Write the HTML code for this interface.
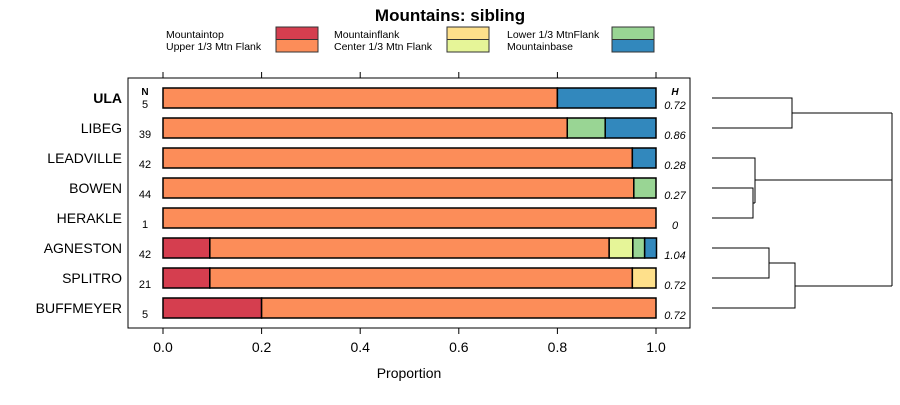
<!DOCTYPE html>
<html><head><meta charset="utf-8"><style>
body{margin:0;background:#fff}
svg{font-family:"Liberation Sans",sans-serif}
</style></head><body>
<svg id="c" width="900" height="400" xmlns="http://www.w3.org/2000/svg">
<text x="450" y="21" text-anchor="middle" font-size="17" font-weight="bold">Mountains: sibling</text>
<g id="legend"></g>
<rect x="128" y="78" width="562" height="250" fill="none" stroke="#000"/>
<text x="145" y="95" text-anchor="middle" font-size="10" font-weight="bold">N</text>
<text x="675" y="95" text-anchor="middle" font-size="10" font-weight="bold" font-style="italic">H</text>
<g id="bars"></g>
<g id="axis"></g>
<text x="409" y="378" text-anchor="middle" font-size="14">Proportion</text>
<g fill="none" stroke="#000" stroke-width="1">
<path d="M712 98H792V128H712M792 113H892"/>
<path d="M712 188H753V218H712M753 203H755M712 158H755V203M755 180H892"/>
<path d="M712 248H769V278H712M769 263H795V308H712M795 286H892"/>
<path d="M892 113V286"/>
</g>
</svg>
<script>
const categories=["ULA","LIBEG","LEADVILLE","BOWEN","HERAKLE","AGNESTON","SPLITRO","BUFFMEYER"];
const nValues=[5,39,42,44,1,42,21,5];
const hValues=["0.72","0.86","0.28","0.27","0","1.04","0.72","0.72"];
const seriesNames=["Mountaintop","Upper 1/3 Mtn Flank","Mountainflank","Center 1/3 Mtn Flank","Lower 1/3 MtnFlank","Mountainbase"];
const seriesColors=["#d53e4f","#fc8d59","#fee08b","#e6f598","#99d594","#3288bd"];
const mountaintop=[0,0,0,0,0,0.095,0.095,0.2];
const upperFlank=[0.8,0.82,0.952,0.955,1,0.81,0.857,0.8];
const mountainflank=[0,0,0,0,0,0,0.048,0];
const centerFlank=[0,0,0,0,0,0.048,0,0];
const lowerFlank=[0,0.077,0,0.045,0,0.024,0,0];
const mountainbase=[0.2,0.103,0.048,0,0,0.024,0,0];
const ticks=[0,0.2,0.4,0.6,0.8,1.0];
const tickLabels=["0.0","0.2","0.4","0.6","0.8","1.0"];
const series=[mountaintop,upperFlank,mountainflank,centerFlank,lowerFlank,mountainbase];
const NS="http://www.w3.org/2000/svg";
const x=v=>163+v*493;
const y=i=>98+i*30;
function mk(t,a,p){const e=document.createElementNS(NS,t);for(const k in a)e.setAttribute(k,a[k]);p.appendChild(e);return e;}
const bars=document.getElementById('bars');
categories.forEach((c,i)=>{
  const lab=mk('text',{x:122,y:y(i)+5,'text-anchor':'end','font-size':14,'font-weight':i===0?'bold':'normal'},bars);
  lab.textContent=c;
  
  
  const n=mk('text',{x:145,y:y(i)+10,'text-anchor':'middle','font-size':11},bars);
  n.textContent=nValues[i];
  
  
  const h=mk('text',{x:675,y:y(i)+11,'text-anchor':'middle','font-size':11,'font-style':'italic'},bars);
  h.textContent=hValues[i];
  
  
  let acc=0;
  series.forEach((s,k)=>{
    const v=s[i]; if(v<=0)return;
    const r=mk('rect',{x:x(acc),y:y(i)-10,width:x(acc+v)-x(acc),height:20,fill:seriesColors[k],stroke:'#000','stroke-width':1.5},bars);
    
    
    acc+=v;
  });
});
const ax=document.getElementById('axis');
ticks.forEach((t,i)=>{
  mk('line',{x1:x(t),x2:x(t),y1:328,y2:334,stroke:'#000'},ax);
  mk('line',{x1:x(t),x2:x(t),y1:78,y2:72,stroke:'#000'},ax);
  const tl=mk('text',{x:x(t),y:352,'text-anchor':'middle','font-size':14},ax);
  tl.textContent=tickLabels[i];
  
  
});
const lg=document.getElementById('legend');
const pos=[[166,38],[166,50],[334,38],[334,50],[507,38],[507,50]];
const box=[[276,27],[276,39.5],[447,27],[447,39.5],[612,27],[612,39.5]];
seriesNames.forEach((s,k)=>{
  const t=mk('text',{x:pos[k][0],y:pos[k][1],'font-size':10.5},lg);
  t.textContent=s;
  
  
  const r=mk('rect',{x:box[k][0],y:box[k][1],width:42,height:12.5,fill:seriesColors[k],stroke:'#333'},lg);
  
  
});
</script>
</body></html>
